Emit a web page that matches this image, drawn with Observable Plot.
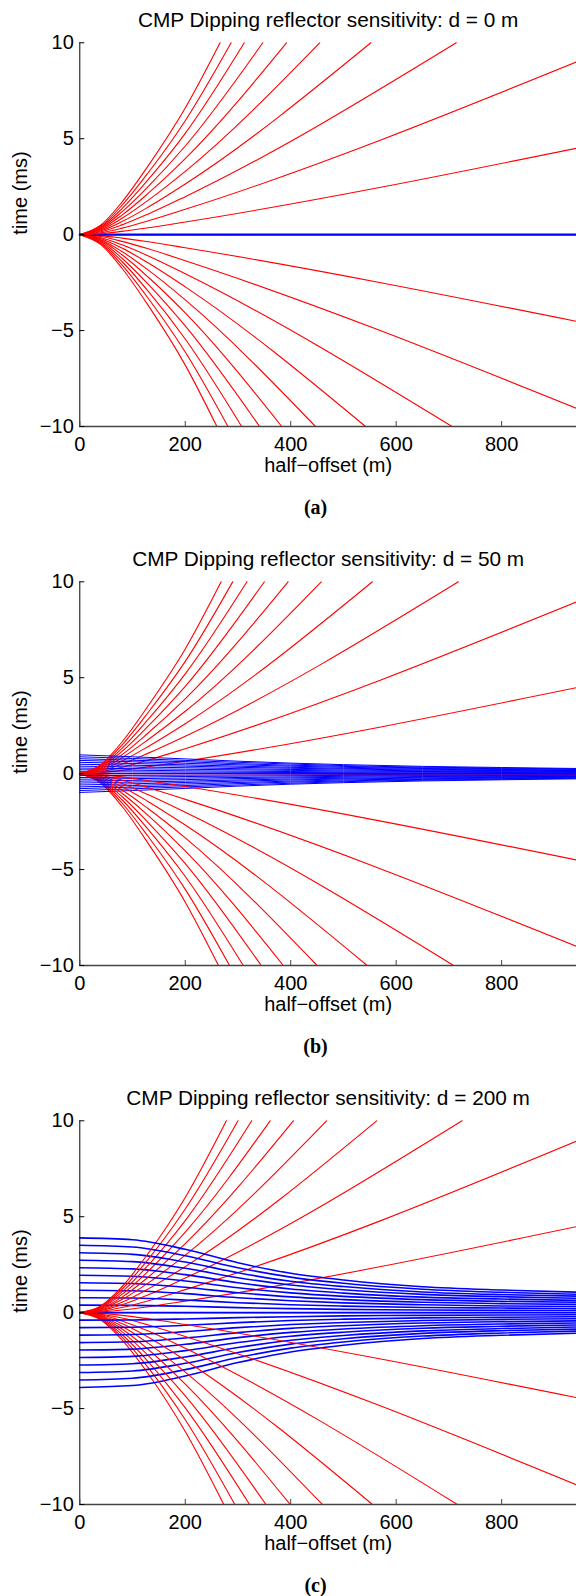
<!DOCTYPE html>
<html><head><meta charset="utf-8">
<script src="https://cdn.jsdelivr.net/npm/d3@7"></script>
<script src="https://cdn.jsdelivr.net/npm/@observablehq/plot@0.6"></script>
<style>
body{margin:0;background:#fff;width:576px;}
svg{display:block}
</style></head><body><div id="chart"></div>
<script>
// ---------- shared axis data ----------
const xTicks = [0, 200, 400, 600, 800];
const yTicks = [-10, -5, 0, 5, 10];
const xMax = 942;
const titles = ["CMP Dipping reflector sensitivity: d = 0 m",
                "CMP Dipping reflector sensitivity: d = 50 m",
                "CMP Dipping reflector sensitivity: d = 200 m"];
const captions = ["(a)", "(b)", "(c)"];
const panelHeights = [539, 539, 518];

// ---------- red curves: t at x = 40, 80, 130, 200 m, then end point [x, t] ----------
const redXs = [40, 80, 130, 200];
// dips +10 .. +1 deg (upper family)
const redUpA = [
 [.5,1.7,3.6,6.6,266,10],[.45,1.53,3.24,5.94,287,10],[.4,1.36,2.88,5.28,312,10],
 [.35,1.19,2.52,4.62,347,10],[.3,1.02,2.16,3.96,392,10],[.25,.85,1.8,3.3,455,10],
 [.2,.68,1.44,2.64,552,10],[.15,.51,1.08,1.98,714,10],[.1,.34,.72,1.32,942,9.0],
 [.05,.17,.36,.66,942,4.5]];
// dips -10 .. -1 deg (lower family)
const redDnA = [
 [-.52,-1.75,-3.7,-6.8,260,-10],[-.47,-1.58,-3.33,-6.12,281,-10],[-.42,-1.4,-2.96,-5.44,307,-10],
 [-.36,-1.23,-2.59,-4.76,341,-10],[-.31,-1.05,-2.22,-4.08,383,-10],[-.26,-.88,-1.85,-3.4,447,-10],
 [-.21,-.7,-1.48,-2.72,542,-10],[-.16,-.53,-1.11,-2.04,706,-10],[-.1,-.35,-.74,-1.36,942,-9.05],
 [-.05,-.18,-.37,-.68,942,-4.52]];
const redUpB = [
 [.48,1.65,3.55,6.5,268,10],[.43,1.49,3.2,5.85,290,10],[.38,1.32,2.84,5.2,317,10],
 [.34,1.16,2.49,4.55,350,10],[.29,.99,2.13,3.9,395,10],[.24,.83,1.78,3.25,458,10],
 [.19,.66,1.42,2.6,555,10],[.14,.5,1.07,1.95,718,10],[.1,.33,.71,1.3,942,8.95],
 [.05,.17,.36,.65,942,4.48]];
const redDnB = [
 [-.5,-1.7,-3.65,-6.7,263,-10],[-.45,-1.53,-3.29,-6.03,284,-10],[-.4,-1.36,-2.92,-5.36,310,-10],
 [-.35,-1.19,-2.56,-4.69,344,-10],[-.3,-1.02,-2.19,-4.02,386,-10],[-.25,-.85,-1.83,-3.35,450,-10],
 [-.2,-.68,-1.46,-2.68,545,-10],[-.15,-.51,-1.1,-2.01,709,-10],[-.1,-.34,-.73,-1.34,942,-9.0],
 [-.05,-.17,-.37,-.67,942,-4.5]];
const redUpC = [
 [.35,1.35,3.1,6.0,278,10],[.32,1.22,2.79,5.4,300,10],[.28,1.08,2.48,4.8,326,10],
 [.25,.95,2.17,4.2,361,10],[.21,.81,1.86,3.6,405,10],[.18,.68,1.55,3.0,468,10],
 [.14,.54,1.24,2.4,563,10],[.11,.41,.93,1.8,725,10],[.07,.27,.62,1.2,942,8.94],
 [.04,.14,.31,.6,942,4.48]];
const redDnC = [
 [-.38,-1.42,-3.2,-6.2,273,-10],[-.34,-1.28,-2.88,-5.58,294,-10],[-.3,-1.14,-2.56,-4.96,322,-10],
 [-.27,-.99,-2.24,-4.34,353,-10],[-.23,-.85,-1.92,-3.72,399,-10],[-.19,-.71,-1.6,-3.1,460,-10],
 [-.15,-.57,-1.28,-2.48,555,-10],[-.11,-.43,-.96,-1.86,716,-10],[-.08,-.28,-.64,-1.24,942,-8.97],
 [-.04,-.14,-.32,-.62,942,-4.43]];

// ---------- blue curves: t at these half-offsets, dips +10 .. -10 deg ----------
const blueXs = [0, 100, 200, 300, 400, 500, 650, 800, 942];
const blueA = [0,0,0,0,0,0,0,0,0]; // all 21 dips coincide at d = 0
const blueB = [
 [.98,.88,.77,.65,.55,.47,.38,.32,.27],[.88,.79,.69,.59,.5,.42,.34,.29,.24],
 [.78,.7,.62,.52,.44,.38,.3,.26,.22],[.69,.62,.54,.46,.39,.33,.27,.22,.19],
 [.59,.53,.46,.39,.33,.28,.23,.19,.16],[.49,.44,.39,.33,.28,.24,.19,.16,.14],
 [.39,.35,.31,.26,.22,.19,.15,.13,.11],[.29,.26,.23,.2,.17,.14,.11,.1,.08],
 [.2,.18,.15,.13,.11,.09,.08,.06,.05],[.1,.09,.08,.07,.06,.05,.04,.03,.03],
 [0,0,0,0,0,0,0,0,0],
 [-.1,-.09,-.08,-.07,-.06,-.05,-.04,-.03,-.03],[-.2,-.18,-.15,-.13,-.11,-.09,-.08,-.06,-.05],
 [-.29,-.26,-.23,-.2,-.17,-.14,-.11,-.1,-.08],[-.39,-.35,-.31,-.26,-.22,-.19,-.15,-.13,-.11],
 [-.49,-.44,-.39,-.33,-.28,-.24,-.19,-.16,-.14],[-.59,-.53,-.46,-.39,-.33,-.28,-.23,-.19,-.16],
 [-.69,-.62,-.54,-.46,-.39,-.33,-.27,-.22,-.19],[-.78,-.7,-.62,-.52,-.44,-.38,-.3,-.26,-.22],
 [-.88,-.79,-.69,-.59,-.5,-.42,-.34,-.29,-.24],[-.98,-.88,-.77,-.65,-.55,-.47,-.38,-.32,-.27]];
const blueC = [
 [3.9,3.8,3.3,2.6,2.05,1.7,1.35,1.18,1.07],[3.51,3.42,2.97,2.34,1.85,1.53,1.22,1.06,.96],
 [3.12,3.04,2.64,2.08,1.64,1.36,1.08,.94,.86],[2.73,2.66,2.31,1.82,1.44,1.19,.95,.83,.75],
 [2.34,2.28,1.98,1.56,1.23,1.02,.81,.71,.64],[1.95,1.9,1.65,1.3,1.03,.85,.68,.59,.54],
 [1.56,1.52,1.32,1.04,.82,.68,.54,.47,.43],[1.17,1.14,.99,.78,.62,.51,.41,.35,.32],
 [.78,.76,.66,.52,.41,.34,.27,.24,.21],[.39,.38,.33,.26,.21,.17,.14,.12,.11],
 [0,0,0,0,0,0,0,0,0],
 [-.39,-.38,-.33,-.26,-.21,-.17,-.14,-.12,-.11],[-.78,-.76,-.66,-.52,-.41,-.34,-.27,-.24,-.21],
 [-1.17,-1.14,-.99,-.78,-.62,-.51,-.41,-.35,-.32],[-1.56,-1.52,-1.32,-1.04,-.82,-.68,-.54,-.47,-.43],
 [-1.95,-1.9,-1.65,-1.3,-1.03,-.85,-.68,-.59,-.54],[-2.34,-2.28,-1.98,-1.56,-1.23,-1.02,-.81,-.71,-.64],
 [-2.73,-2.66,-2.31,-1.82,-1.44,-1.19,-.95,-.83,-.75],[-3.12,-3.04,-2.64,-2.08,-1.64,-1.36,-1.08,-.94,-.86],
 [-3.51,-3.42,-2.97,-2.34,-1.85,-1.53,-1.22,-1.06,-.96],[-3.9,-3.8,-3.3,-2.6,-2.05,-1.7,-1.35,-1.18,-1.07]];

// ---------- helpers ----------
const redPts = r => [[0,0], ...redXs.map((x,i)=>[x, r[i]]), [r[4], r[5]]];
const bluePts = row => blueXs.map((x,i)=>[x, row[i]]);
const sans = "'Liberation Sans', Arial, Helvetica, sans-serif";

function panel(p, redUp, redDn, blue, blueW) {
  const H = panelHeights[p];
  const lineMarks = [];
  for (let th = -10; th <= 10; th++) {
    let rp;
    if (th < 0) rp = redPts(redDn[10 + th]);
    else if (th > 0) rp = redPts(redUp[10 - th]);
    else rp = [[0,0],[xMax,0]];
    lineMarks.push(Plot.line(rp, {x: d=>d[0], y: d=>d[1], stroke: "#ff0000", strokeWidth: 1.1, curve: "monotone-x"}));
    if (Array.isArray(blue[0])) {
      lineMarks.push(Plot.line(bluePts(blue[10 - th]), {x: d=>d[0], y: d=>d[1], stroke: "#0000ff", strokeWidth: blueW, curve: "monotone-x"}));
    } else if (th === 0) {
      lineMarks.push(Plot.line(bluePts(blue), {x: d=>d[0], y: d=>d[1], stroke: "#0000ff", strokeWidth: blueW}));
    }
  }
  return Plot.plot({
    width: 576, height: H,
    marginLeft: 79.3, marginRight: 0, marginTop: 42.3, marginBottom: H - 426,
    x: {domain: [0, xMax]},
    y: {domain: [-10, 10]},
    style: {fontFamily: sans, fontSize: "20px", background: "#fff", color: "#000"},
    marks: [
      ...lineMarks,
      Plot.ruleY([-10], {stroke: "#444", strokeWidth: 1.4}),
      Plot.ruleX([0], {stroke: "#000", strokeWidth: 1}),
      Plot.ruleX(xTicks, {y1: -10, y2: -9.74, stroke: "#444"}),
      Plot.ruleY(yTicks, {x1: 0, x2: 9.5, stroke: "#000"}),
      Plot.axisX({ticks: xTicks, tickSize: 0, tickPadding: 10, label: null, fontSize: 20}),
      Plot.axisY({ticks: yTicks, tickSize: 0, tickPadding: 6, label: null, fontSize: 20}),
      Plot.text([titles[p]], {frameAnchor: "top", lineAnchor: "middle", dy: -22.7, fontSize: 20.8}),
      Plot.text(["half\u2212offset (m)"], {frameAnchor: "bottom", lineAnchor: "middle", dy: 38.7, fontSize: 20}),
      Plot.text(["time (ms)"], {frameAnchor: "left", lineAnchor: "middle", rotate: -90, dx: -59, fontSize: 20}),
      Plot.text([captions[p]], {frameAnchor: "bottom", lineAnchor: "middle", dy: 81, dx: -12.6, fontSize: 20, fontWeight: "bold",
        fontFamily: "'Liberation Serif', 'Times New Roman', serif"})
    ]
  });
}

const root = document.getElementById("chart");
root.append(panel(0, redUpA, redDnA, blueA, 2.3));
root.append(panel(1, redUpB, redDnB, blueB, 1));
root.append(panel(2, redUpC, redDnC, blueC, 1.6));
</script></body></html>
